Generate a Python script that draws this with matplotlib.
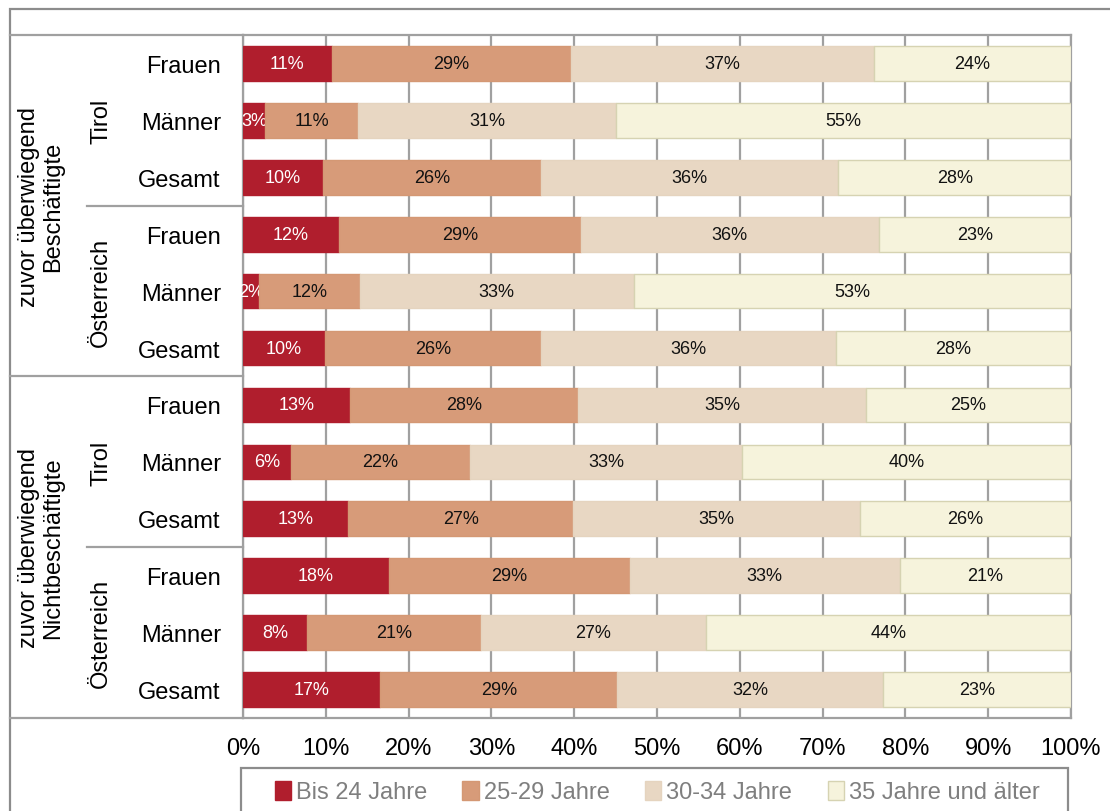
import matplotlib
matplotlib.use("Agg")
import matplotlib.pyplot as plt
from matplotlib.lines import Line2D
from matplotlib.patches import Rectangle
from matplotlib.transforms import blended_transform_factory
import numpy as np

plt.rcParams['font.family'] = ['Liberation Sans', 'DejaVu Sans']

# ---- data ----
row_labels = ["Frauen", "Männer", "Gesamt"] * 4
regions = ["Tirol", "Österreich", "Tirol", "Österreich"]
groups = ["zuvor überwiegend\nBeschäftigte", "zuvor überwiegend\nNichtbeschäftigte"]
series_names = ["Bis 24 Jahre", "25-29 Jahre", "30-34 Jahre", "35 Jahre und älter"]
bis24 = [10.7, 2.7, 9.7, 11.6, 1.9, 9.9, 12.9, 5.8, 12.7, 17.6, 7.7, 16.6]
j25_29 = [28.9, 11.2, 26.3, 29.2, 12.2, 26.1, 27.6, 21.6, 27.2, 29.1, 21.0, 28.6]
j30_34 = [36.6, 31.1, 35.9, 36.0, 33.1, 35.6, 34.7, 32.9, 34.6, 32.6, 27.2, 32.1]
j35plus = [23.8, 55.0, 28.1, 23.2, 52.8, 28.4, 24.8, 39.7, 25.5, 20.7, 44.1, 22.7]
xticks = [0, 10, 20, 30, 40, 50, 60, 70, 80, 90, 100]
xtick_labels = [f"{t}%" for t in xticks]

colors = ["#B01E2D", "#D79B79", "#E8D7C3", "#F6F3DC"]
edges = ["#B01E2D", "#D49874", "#E5D4BF", "#D6D3B2"]
label_colors = ["white", "#111111", "#111111", "#111111"]

W, H = 1110, 812
fig = plt.figure(figsize=(W / 100, H / 100), dpi=100)

def fx(px):
    return px / W

def fy(py):
    return 1 - py / H

ax_l, ax_r, ax_t, ax_b = 243, 1071, 36, 719
ax = fig.add_axes([fx(ax_l), fy(ax_b), fx(ax_r) - fx(ax_l), fy(ax_t) - fy(ax_b)])

n = len(row_labels)
y = np.arange(n)
left = np.zeros(n)
all_series = [bis24, j25_29, j30_34, j35plus]
for vals, name, c, ec, lc in zip(all_series, series_names, colors, edges, label_colors):
    vals = np.array(vals)
    cont = ax.barh(y, vals, left=left, height=0.61, color=c, edgecolor=ec,
                   linewidth=1, label=name, zorder=3)
    ax.bar_label(cont, labels=[f"{v:.0f}%" for v in vals], label_type='center',
                 color=lc, fontsize=13)
    left = left + vals

ax.set_xlim(0, 100)
ax.set_ylim(n - 0.5, -0.5)
ax.set_xticks(xticks)
ax.set_xticklabels(xtick_labels, fontsize=17)
ax.set_yticks(y)
ax.set_yticklabels(row_labels, fontsize=17)
ax.tick_params(axis='x', length=0, pad=14)
ax.tick_params(axis='y', length=0, pad=16)
ax.grid(axis='x', color='#A0A0A0', linewidth=1.6, zorder=0)
ax.set_axisbelow(True)
for s in ax.spines.values():
    s.set_color('#A0A0A0')
    s.set_linewidth(1.6)

# rotated region / group labels
tr = blended_transform_factory(ax.transAxes, ax.transData)
for i, r in enumerate(regions):
    yc = i * 3 + 1
    ax.text((101 - ax_l) / (ax_r - ax_l), yc, r, rotation=90, ha='center', va='center',
            fontsize=17, transform=tr)
for i, g in enumerate(groups):
    yc = i * 6 + 2.5
    ax.text((41 - ax_l) / (ax_r - ax_l), yc, g, rotation=90, ha='center', va='center',
            fontsize=17, transform=tr, linespacing=1.1)

# table lines
lc_ = '#A0A0A0'
def hline(x0, x1, yy):
    fig.add_artist(Line2D([fx(x0), fx(x1)], [fy(yy), fy(yy)], color=lc_, linewidth=1.6))

hline(10, ax_l, 36)
hline(10, ax_l, 377)
hline(10, ax_l, 719)
hline(87, ax_l, 207)
hline(87, ax_l, 548)

# outer frame
fig.add_artist(Rectangle((fx(10), fy(830)), fx(1130) - fx(10), fy(10) - fy(830),
                         fill=False, edgecolor='#8C8C8C', linewidth=1.6))

# legend box
fig.add_artist(Rectangle((fx(241), fy(830)), fx(1068) - fx(241), fy(769) - fy(830),
                         fill=False, edgecolor='#8C8C8C', linewidth=1.6))
handles, labels = ax.get_legend_handles_labels()
leg = fig.legend(handles, labels, loc='center', bbox_to_anchor=(fx(657), fy(793)),
                 ncol=4, frameon=False, fontsize=17, handlelength=0.7, handleheight=0.9,
                 handletextpad=0.2, columnspacing=1.5, borderaxespad=0)
for t in leg.get_texts():
    t.set_color('#7F7F7F')

fig.savefig("out.png", dpi=100)
